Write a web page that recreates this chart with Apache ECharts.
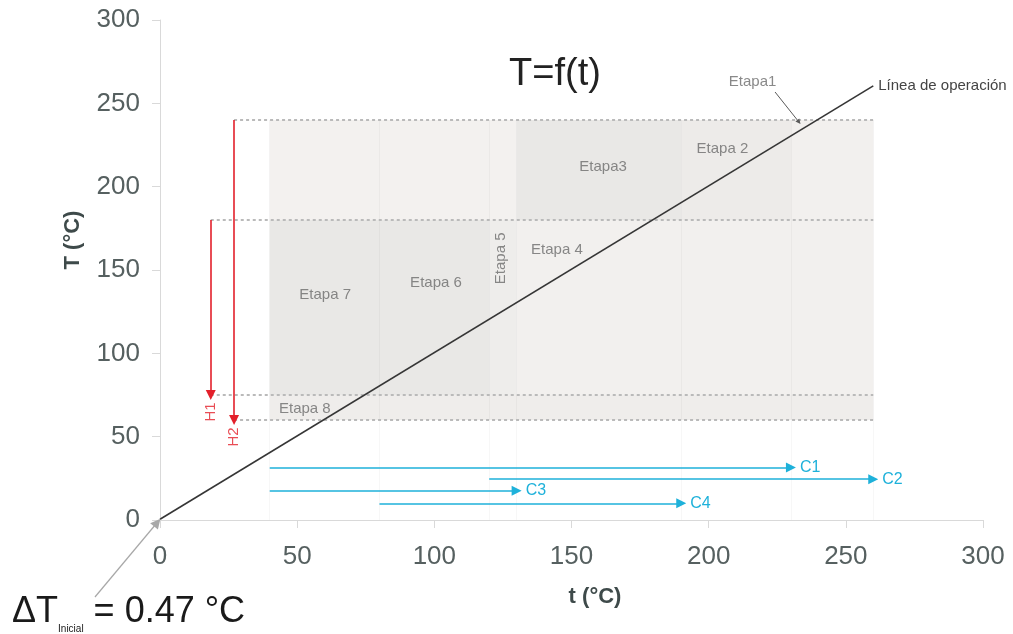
<!DOCTYPE html>
<html>
<head>
<meta charset="utf-8">
<title>T=f(t)</title>
<script src="https://cdn.jsdelivr.net/npm/echarts@6/dist/echarts.min.js"></script>
<style>
  html, body { margin: 0; padding: 0; background: #fff; }
  #chart { width: 1013px; height: 634px; }
</style>
</head>
<body>
<div id="chart"></div>
<script>
// stage boundaries on the cold side, t (°C)
const stageBounds = [40, 80, 120, 130, 190, 230, 260];
// hot streams: inlet / outlet T and the t where the arrow sits
const hotNames = ['H1', 'H2'];
const hotIn = [180, 240];
const hotOut = [75, 60];
const hotAt = [18.5, 27];
// cold streams: inlet / outlet t and the T where the arrow sits
const coldNames = ['C1', 'C2', 'C3', 'C4'];
const coldIn = [40, 120, 40, 80];
const coldOut = [230, 260, 130, 190];
const coldAt = [31.5, 24.5, 17.5, 10];
// operating line
const opX = [0, 260];
const opY = [0.47, 260.47];
// stage labels
const stageNames = ['Etapa1', 'Etapa 2', 'Etapa3', 'Etapa 4', 'Etapa 5', 'Etapa 6', 'Etapa 7', 'Etapa 8'];
const stageX = [216, 205, 161.5, 144.7, 124.3, 100.6, 60.2, 52.8];
const stageY = [263, 222.6, 211.8, 162, 157, 142, 135, 66.8];
// Etapa1 pointer
const etapa1From = [224.2, 256.8];
const etapa1To = [232.9, 238.8];
// ΔT inicial pointer
const dtFrom = [-23.7, -46.2];
const dtTo = [-1, -1.5];
// shaded cells [t0, t1, T0, T1]
const cells = [
  [40, 130, 180, 240], [130, 190, 180, 240], [190, 230, 180, 240], [230, 260, 180, 240],
  [40, 120, 75, 180], [120, 130, 75, 180], [130, 260, 75, 180],
  [40, 260, 60, 75]
];
const cellShades = ['#f3f1ef', '#e9e8e6', '#edebe9', '#f2f0ee', '#e9e8e6', '#eeedeb', '#f2f0ee', '#efedeb'];

const FONT = 'Liberation Sans, Arial, sans-serif';
const chart = echarts.init(document.getElementById('chart'));

// dotted level lines start at the hot stream that owns them
const levelLines = [];
hotNames.forEach((h, i) => {
  levelLines.push({ coords: [[hotAt[i], hotIn[i]], [260, hotIn[i]]] });
  levelLines.push({ coords: [[hotAt[i], hotOut[i]], [260, hotOut[i]]] });
});

const option = {
  animation: false,
  backgroundColor: '#fff',
  title: {
    text: 'T=f(t)',
    left: 555,
    top: 56,
    padding: 0,
    textAlign: 'center',
    textStyle: { fontFamily: FONT, fontSize: 38, fontWeight: 'normal', color: '#222' }
  },
  grid: { left: 160, right: 30, top: 20, bottom: 114 },
  xAxis: {
    type: 'value',
    min: 0,
    max: 300,
    interval: 50,
    name: 't (°C)',
    nameLocation: 'middle',
    nameGap: 66,
    nameTextStyle: { fontFamily: FONT, fontSize: 22, fontWeight: 'bold', color: '#3e4a4a', padding: [0, 0, 0, 47] },
    axisLine: { show: true, lineStyle: { color: '#d9d9d9', width: 1 } },
    axisTick: { show: true, length: 8, lineStyle: { color: '#d9d9d9' } },
    axisLabel: { fontFamily: FONT, fontSize: 26, color: '#566060', margin: 24 },
    splitLine: { show: false }
  },
  yAxis: {
    type: 'value',
    min: 0,
    max: 300,
    interval: 50,
    name: 'T (°C)',
    nameLocation: 'middle',
    nameGap: 76,
    nameTextStyle: { fontFamily: FONT, fontSize: 22, fontWeight: 'bold', color: '#3e4a4a', padding: [0, 0, 0, 60] },
    axisLine: { show: true, lineStyle: { color: '#d9d9d9', width: 1 } },
    axisTick: { show: true, length: 8, lineStyle: { color: '#d9d9d9' } },
    axisLabel: { fontFamily: FONT, fontSize: 26, color: '#566060', margin: 20 },
    splitLine: { show: false }
  },
  graphic: [{
    type: 'text',
    left: 12,
    top: 594,
    style: {
      text: '{a|ΔT}{b|Inicial}{a| = 0.47 °C}',
      rich: {
        a: { fontFamily: FONT, fontSize: 36, fill: '#1a1a1a', lineHeight: 40, verticalAlign: 'bottom' },
        b: { fontFamily: FONT, fontSize: 10, fill: '#1a1a1a', lineHeight: 40, verticalAlign: 'bottom', padding: [0, 0, -4, 0] }
      }
    }
  }],
  series: [
    {
      name: 'areas',
      type: 'line',
      data: [],
      silent: true,
      z: 1,
      markArea: {
        silent: true,
        data: cells.map((c, i) => [
          { xAxis: c[0], yAxis: c[2], itemStyle: { color: cellShades[i] } },
          { xAxis: c[1], yAxis: c[3] }
        ])
      }
    },
    {
      name: 'bounds',
      type: 'lines',
      coordinateSystem: 'cartesian2d',
      silent: true,
      z: 2,
      lineStyle: { color: 'rgba(0,0,0,0.06)', width: 1 },
      data: stageBounds.map(t => ({ coords: [[t, 0], [t, 240]] }))
    },
    {
      name: 'levels',
      type: 'lines',
      coordinateSystem: 'cartesian2d',
      silent: true,
      z: 3,
      lineStyle: { color: '#bababa', width: 2, type: [3, 3], opacity: 1 },
      data: levelLines
    },
    {
      name: 'operación',
      type: 'line',
      z: 5,
      symbol: 'none',
      lineStyle: { color: '#363636', width: 1.6 },
      data: opX.map((t, i) => [t, opY[i]]),
      endLabel: {
        show: true,
        formatter: 'Línea de operación',
        fontFamily: FONT,
        fontSize: 15,
        color: '#444',
        distance: 5
      }
    },
    {
      name: 'hot',
      type: 'lines',
      coordinateSystem: 'cartesian2d',
      z: 6,
      symbol: ['none', 'triangle'],
      symbolSize: 10,
      lineStyle: { color: '#e3202b', width: 1.6, opacity: 1 },
      data: hotNames.map((h, i) => ({ name: h, coords: [[hotAt[i], hotIn[i]], [hotAt[i], hotOut[i]]] }))
    },
    {
      name: 'cold',
      type: 'lines',
      coordinateSystem: 'cartesian2d',
      z: 6,
      symbol: ['none', 'triangle'],
      symbolSize: 10,
      lineStyle: { color: '#1eb1da', width: 1.6, opacity: 1 },
      label: {
        show: true,
        position: 'end',
        distance: 9,
        formatter: '{b}',
        fontFamily: FONT,
        fontSize: 16,
        color: '#1eb1da'
      },
      data: coldNames.map((c, i) => ({ name: c, coords: [[coldIn[i], coldAt[i]], [coldOut[i], coldAt[i]]] }))
    },
    {
      name: 'pointers',
      type: 'lines',
      coordinateSystem: 'cartesian2d',
      clip: false,
      z: 6,
      symbol: ['none', 'triangle'],
      data: [
        { coords: [etapa1From, etapa1To], symbolSize: 5, lineStyle: { color: '#5a5a5a', width: 1 } },
        { coords: [dtFrom, dtTo], symbolSize: 10, lineStyle: { color: '#a8a8a8', width: 1.2 } }
      ],
      symbolSize: 8,
      lineStyle: { opacity: 1 }
    },
    {
      name: 'labels',
      type: 'scatter',
      z: 7,
      symbolSize: 0,
      silent: true,
      label: {
        show: true,
        position: 'inside',
        formatter: '{b}',
        fontFamily: FONT,
        fontSize: 15,
        color: '#6b6b6b'
      },
      data: stageNames.map((s, i) => ({
        name: s,
        value: [stageX[i], stageY[i]],
        label: s === 'Etapa 5' ? { rotate: 90 } : {}
      })).concat(hotNames.map((h, i) => ({
        name: h,
        value: [hotAt[i], hotOut[i] - 10.2],
        label: { rotate: 90, color: '#e3202b', fontSize: 15 }
      })))
    }
  ]
};

chart.setOption(option);
</script>
</body>
</html>
